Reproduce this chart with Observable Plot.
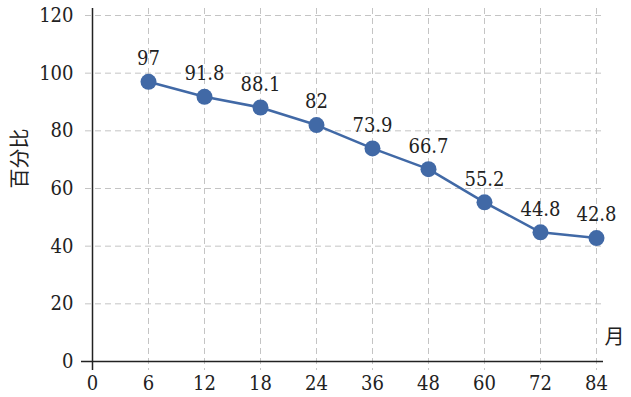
<!DOCTYPE html>
<html>
<head>
<meta charset="utf-8">
<script src="https://cdn.jsdelivr.net/npm/d3@7"></script>
<script src="https://cdn.jsdelivr.net/npm/@observablehq/plot@0.6"></script>
<style>
html,body{margin:0;padding:0;background:#fff;}
</style>
</head>
<body>
<div id="chart"></div>
<script>
const monthTicks = ["0","6","12","18","24","36","48","60","72","84"];
const months = ["6","12","18","24","36","48","60","72","84"];
const percents = [97, 91.8, 88.1, 82, 73.9, 66.7, 55.2, 44.8, 42.8];
const yTicks = [0, 20, 40, 60, 80, 100, 120];
const yLabel = "百分比";
const xLabel = "月";

const data = months.map((m, i) => ({month: m, value: percents[i]}));
const color = "#4169a6";
const font = "'DejaVu Serif Condensed', 'DejaVu Serif', serif";
const cjk = "Noto Sans CJK SC";

const chart = Plot.plot({
  width: 631,
  height: 397,
  marginLeft: 90,
  marginRight: 34,
  marginTop: 15,
  marginBottom: 36,
  style: "font-family: 'DejaVu Serif Condensed', 'DejaVu Serif', serif; font-stretch: condensed; font-size: 20px; color: #222; background: #fff;",
  x: {type: "point", domain: monthTicks, padding: 0},
  y: {domain: [0, 120], ticks: yTicks},
  marks: [
    Plot.gridY(yTicks, {stroke: "#c4c4c4", strokeOpacity: 1, strokeDasharray: "6,4", insetLeft: -5, insetRight: -6}),
    Plot.gridX(monthTicks.slice(1), {stroke: "#c4c4c4", strokeOpacity: 1, strokeDasharray: "6,4", insetTop: -7, insetBottom: -9}),
    Plot.ruleX([monthTicks[0]], {stroke: "#222", strokeWidth: 1.5, insetTop: -7, insetBottom: -9}),
    Plot.ruleY([0], {stroke: "#222", strokeWidth: 1.5, insetLeft: -9, insetRight: -6}),
    Plot.axisY(yTicks, {tickSize: 0, tickPadding: 17, fontSize: 20, fontFamily: font, label: null}),
    Plot.axisX(monthTicks, {tickSize: 0, tickPadding: 14, fontSize: 20, fontFamily: font, label: null}),
    Plot.line(data, {x: "month", y: "value", stroke: color, strokeWidth: 2.5}),
    Plot.dot(data, {x: "month", y: "value", r: 8, fill: color, stroke: "none"}),
    Plot.text(data, {x: "month", y: "value", text: d => String(d.value), dy: -23, fontSize: 20, fontFamily: font, fill: "#222"}),
    Plot.text([yLabel], {frameAnchor: "left", dx: -70, rotate: -90, fontSize: 20, fontFamily: cjk, fill: "#222"}),
    Plot.text([xLabel], {frameAnchor: "bottom-right", textAnchor: "start", dx: 7, dy: -18, fontSize: 20, fontFamily: cjk, fill: "#222"})
  ]
});
document.getElementById("chart").appendChild(chart);
</script>
</body>
</html>
